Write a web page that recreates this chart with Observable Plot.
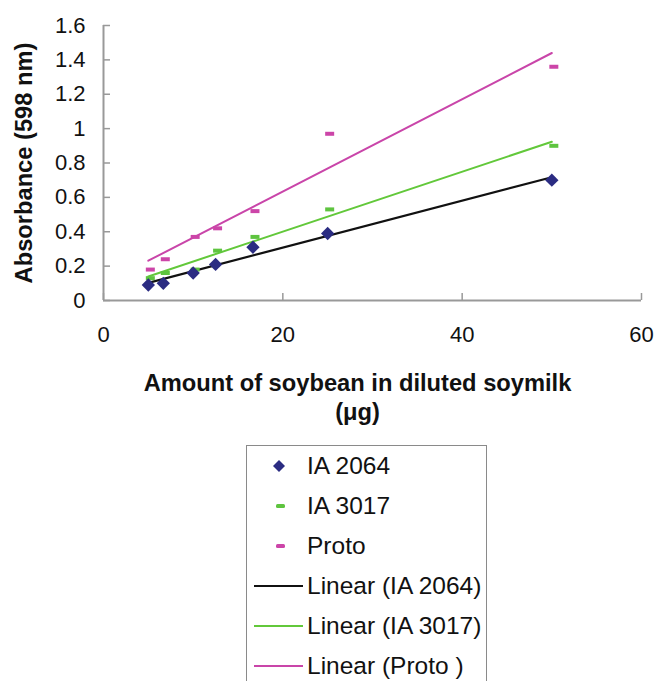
<!DOCTYPE html>
<html>
<head>
<meta charset="utf-8">
<script src="https://cdn.jsdelivr.net/npm/d3@7"></script>
<script src="https://cdn.jsdelivr.net/npm/@observablehq/plot@0.6"></script>
<style>
  body { margin: 0; background: #fff; font-family: "Liberation Sans", Arial, sans-serif; }
  #chart { position: relative; width: 655px; height: 681px; overflow: hidden; }
  #legend { position: absolute; left: 246px; top: 445px; width: 241px; height: 280px;
            border: 1.5px solid #8a8a8a; box-sizing: border-box; background: #fff; }
  .item { height: 40px; display: flex; align-items: center; font-size: 24.5px; color: #111; white-space: nowrap; }
  .item svg { flex: 0 0 auto; }
</style>
</head>
<body>
<div id="chart"></div>
<script>
// ---- data ----
const amounts = [5, 6.67, 10, 12.5, 16.67, 25, 50];          // µg soybean
const ia2064  = [0.09, 0.10, 0.16, 0.21, 0.31, 0.39, 0.70];
const ia3017  = [0.13, 0.16, 0.18, 0.29, 0.37, 0.53, 0.90];
const proto   = [0.18, 0.24, 0.37, 0.42, 0.52, 0.97, 1.36];
const xTicks  = [0, 20, 40, 60];
const yTicks  = [0, 0.2, 0.4, 0.6, 0.8, 1, 1.2, 1.4, 1.6];
const seriesNames = ["IA 2064", "IA 3017", "Proto"];
const trendNames  = ["Linear (IA 2064)", "Linear (IA 3017)", "Linear (Proto )"];
const yLabel = "Absorbance (598 nm)";
const xLabel = "Amount of soybean in diluted soymilk\n(μg)";

const colors = { diamond: "#2b2c82", green: "#5ec43f", magenta: "#cc45a8",
                 lineBlack: "#111111", lineGreen: "#62c83a", lineMagenta: "#c945a9" };

const rows = (ys) => amounts.map((x, i) => ({ x, y: ys[i] }));

// least-squares trendline between min and max x (like Excel's linear trendline)
function trend(ys) {
  const n = amounts.length;
  const mx = d3.mean(amounts), my = d3.mean(ys);
  let sxy = 0, sxx = 0;
  for (let i = 0; i < n; i++) { sxy += (amounts[i] - mx) * (ys[i] - my); sxx += (amounts[i] - mx) ** 2; }
  const b = sxy / sxx, a = my - b * mx;
  const [x0, x1] = d3.extent(amounts);
  return [{ x: x0, y: a + b * x0 }, { x: x1, y: a + b * x1 }];
}

const dash = { draw(ctx) { const w = 4.5, h = 2; ctx.moveTo(-w, -h); ctx.lineTo(w, -h); ctx.lineTo(w, h); ctx.lineTo(-w, h); ctx.closePath(); } };

const chart = Plot.plot({
  width: 655, height: 430,
  marginLeft: 103, marginRight: 14, marginTop: 25, marginBottom: 130,
  style: { fontFamily: "'Liberation Sans', Arial, sans-serif", fontSize: "22px", color: "#111", background: "#fff" },
  x: { domain: [0, 60] },
  y: { domain: [0, 1.6] },
  marks: [
    Plot.axisY({ ticks: yTicks, tickSize: -7, tickPadding: 25, stroke: "#999", strokeWidth: 1.5, tickFormat: d => String(d), label: null, fontSize: 22 }),
    Plot.axisY({ ticks: [], label: yLabel, labelAnchor: "center", labelArrow: "none", labelOffset: 88, fontWeight: "bold", fontSize: 23.7, dy: 4 }),
    Plot.axisX({ ticks: xTicks, tickSize: -7, tickPadding: 33, stroke: "#999", strokeWidth: 1.5, tickFormat: d => String(d), label: null, fontSize: 22 }),
    Plot.ruleX([0], { stroke: "#999", strokeWidth: 2 }),
    Plot.ruleY([0], { stroke: "#999", strokeWidth: 2 }),
    Plot.line(trend(ia2064), { x: "x", y: "y", stroke: colors.lineBlack, strokeWidth: 2.2 }),
    Plot.line(trend(ia3017), { x: "x", y: "y", stroke: colors.lineGreen, strokeWidth: 2 }),
    Plot.line(trend(proto),  { x: "x", y: "y", stroke: colors.lineMagenta, strokeWidth: 2 }),
    Plot.dot(rows(proto),  { x: "x", y: "y", symbol: dash, r: 3, fill: colors.magenta, stroke: "none", dx: 2 }),
    Plot.dot(rows(ia3017), { x: "x", y: "y", symbol: dash, r: 3, fill: colors.green, stroke: "none", dx: 2 }),
    Plot.dot(rows(ia2064), { x: "x", y: "y", symbol: "diamond2", r: 6, fill: colors.diamond, stroke: "none" }),
    Plot.text([xLabel], { frameAnchor: "bottom", dx: -15, dy: 96, lineAnchor: "middle", lineHeight: 1.2, fontWeight: "bold", fontSize: 23.7, fill: "#111" })
  ]
});

const root = document.getElementById("chart");
root.appendChild(chart);

// ---- legend ----
const legend = document.createElement("div");
legend.id = "legend";
const swatches = [
  `<polygon points="32,-6 38,0 32,6 26,0" fill="${colors.diamond}"/>`,
  `<rect x="29" y="-2" width="9" height="4" rx="1.5" fill="${colors.green}"/>`,
  `<rect x="29" y="-2" width="9" height="4" rx="1.5" fill="${colors.magenta}"/>`,
  `<line x1="7" x2="56" y1="0" y2="0" stroke="${colors.lineBlack}" stroke-width="2.2"/>`,
  `<line x1="7" x2="56" y1="0" y2="0" stroke="${colors.lineGreen}" stroke-width="2"/>`,
  `<line x1="7" x2="56" y1="0" y2="0" stroke="${colors.lineMagenta}" stroke-width="2"/>`
];
const labels = [...seriesNames, ...trendNames];
labels.forEach((t, i) => {
  const item = document.createElement("div");
  item.className = "item";
  item.innerHTML = `<svg width="60" height="20" viewBox="0 -10 60 20">${swatches[i]}</svg><span>${t}</span>`;
  legend.appendChild(item);
});
root.appendChild(legend);
</script>
</body>
</html>
